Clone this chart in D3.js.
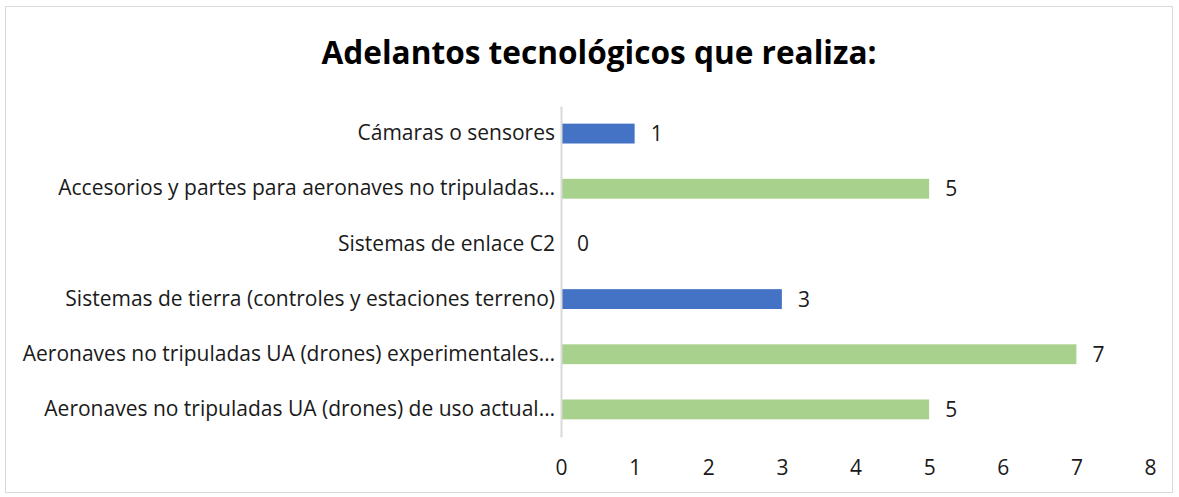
<!DOCTYPE html>
<html>
<head>
<meta charset="utf-8">
<script src="https://cdn.jsdelivr.net/npm/d3@7"></script>
<style>
  body { margin: 0; background: #fff; }
  svg { display: block; font-family: "Open Sans", "Noto Sans", sans-serif; }
</style>
</head>
<body>
<svg id="svg" width="1179" height="497"></svg>
<script>
var categories = [
  "Cámaras o sensores",
  "Accesorios y partes para aeronaves no tripuladas…",
  "Sistemas de enlace C2",
  "Sistemas de tierra (controles y estaciones terreno)",
  "Aeronaves no tripuladas UA (drones) experimentales…",
  "Aeronaves no tripuladas UA (drones) de uso actual…"
];
var values = [1, 5, 0, 3, 7, 5];
var barColors = ["#4472C4", "#A9D18E", "#4472C4", "#4472C4", "#A9D18E", "#A9D18E"];
var xTicks = [0, 1, 2, 3, 4, 5, 6, 7, 8];

var svg = d3.select("#svg");
var padding = { top: 106, right: 29, bottom: 60, left: 561 };
var width = 1179 - padding.left - padding.right;
var height = 437 - padding.top;
var fontSize = 21;

// frame
svg.append("rect")
  .attr("x", 5.5).attr("y", 6.5)
  .attr("width", 1167).attr("height", 486)
  .attr("fill", "#fff").attr("stroke", "#d9d9d9");

svg.append("text")
  .attr("x", 599).attr("y", 64)
  .attr("text-anchor", "middle")
  .attr("font-size", 31.6).attr("font-weight", "bold")
  .attr("fill", "#000")
  .text("Adelantos tecnológicos que realiza:");

var xScale = d3.scaleLinear().domain([0, 8]).range([0, width]);
var yScale = d3.scaleBand().domain(categories).range([0, height]).paddingInner(0.64).paddingOuter(0.32);

var g = svg.append("g").attr("transform", "translate(" + padding.left + "," + padding.top + ")");

g.selectAll("rect.bar")
  .data(values)
  .enter()
  .append("rect")
  .attr("class", "bar")
  .attr("x", 0)
  .attr("y", (d, i) => yScale(categories[i]))
  .attr("width", d => xScale(d))
  .attr("height", yScale.bandwidth())
  .attr("fill", (d, i) => barColors[i]);

g.selectAll("text.val")
  .data(values)
  .enter()
  .append("text")
  .attr("class", "val")
  .attr("x", d => xScale(d) + 16)
  .attr("y", (d, i) => yScale(categories[i]) + yScale.bandwidth() / 2)
  .attr("dy", "0.36em")
  .attr("font-size", fontSize)
  .attr("fill", "#1a1a1a")
  .text(d => d);

// y axis (line + labels)
var yAxis = g.append("g").call(d3.axisLeft(yScale).tickSize(0).tickPadding(6));
yAxis.select(".domain").attr("stroke", "#d9d9d9").attr("stroke-width", 2);
yAxis.selectAll("text").attr("font-size", fontSize).attr("fill", "#1a1a1a").attr("font-family", "'Open Sans', sans-serif");

// x axis labels only
var xAxis = g.append("g")
  .attr("transform", "translate(0," + height + ")")
  .call(d3.axisBottom(xScale).tickValues(xTicks).tickSize(0).tickPadding(23).tickFormat(d3.format("d")));
xAxis.select(".domain").remove();
xAxis.selectAll("text").attr("font-size", fontSize).attr("fill", "#1a1a1a").attr("font-family", "'Open Sans', sans-serif");
</script>
</body>
</html>
